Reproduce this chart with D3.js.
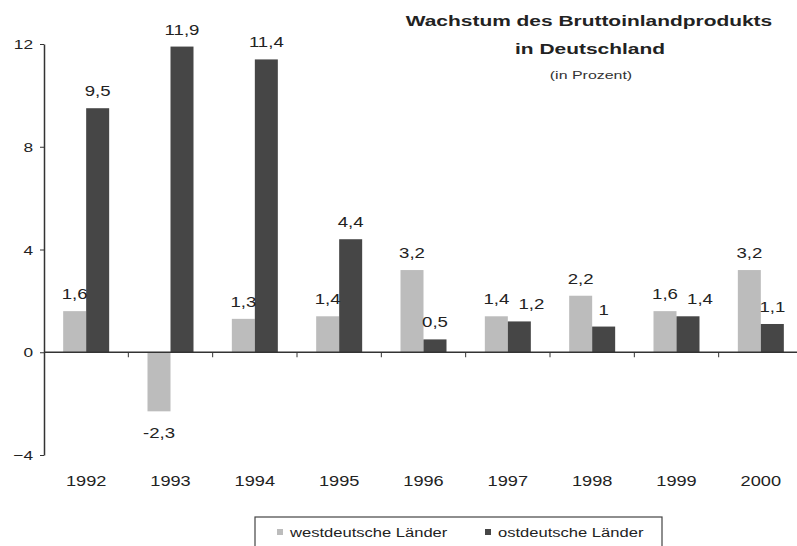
<!DOCTYPE html>
<html>
<head>
<meta charset="utf-8">
<script src="https://cdn.jsdelivr.net/npm/d3@7"></script>
<style>
  body { margin: 0; background: #fff; }
  svg { font-family: "Liberation Sans", Arial, sans-serif; }
</style>
</head>
<body>
<div class="container"></div>
<script>
// Wachstum des BIP, west / ost
var years = ["1992", "1993", "1994", "1995", "1996", "1997", "1998", "1999", "2000"];
var west = [1.6, -2.3, 1.3, 1.4, 3.2, 1.4, 2.2, 1.6, 3.2];
var ost = [9.5, 11.9, 11.4, 4.4, 0.5, 1.2, 1.0, 1.4, 1.1];
var seriesNames = ["westdeutsche Länder", "ostdeutsche Länder"];
var yTicks = [-4, 0, 4, 8, 12];

var width = 797, height = 546;
var colors = ["#bcbcbc", "#464646"];
var wide = 1.33; // the original font is a wide grotesk

var svg = d3.select('.container').append('svg')
  .attr('width', width).attr('height', height);

// helper: put text at (px,py) stretched horizontally
function place(sel, px, py, s) {
  sel.attr('transform', function(d, i){
    var a = typeof px === 'function' ? px(d, i) : px;
    var b = typeof py === 'function' ? py(d, i) : py;
    return 'translate(' + a + ',' + b + ') scale(' + (s || wide) + ',1)';
  });
}

var x = d3.scaleBand().domain(years).range([44, 803]);
var inner = d3.scaleBand().domain([0, 1]).range([0, 46]);
var y = d3.scaleLinear().domain([-4, 12]).range([455, 44]);

var fmt = function(v){ return String(v).replace('.', ','); };

// y axis
var yAxis = svg.append('g')
  .attr('transform', 'translate(44,0)')
  .call(d3.axisLeft(y).tickValues(yTicks).tickSize(4).tickSizeOuter(0));
yAxis.select('.domain').attr('stroke', '#333').attr('stroke-width', 1.5);
yAxis.selectAll('line').attr('stroke', '#333');
yAxis.selectAll('text').attr('font-size', 13).attr('fill', '#222')
  .attr('x', 0).attr('dy', '0.35em')
  .attr('font-family', '"Liberation Sans", Arial, sans-serif')
  .attr('transform', 'translate(-11,0) scale(' + wide + ',1)');

// bars
var rows = years.map(function(yr, i){ return {year: yr, vals: [west[i], ost[i]]}; });
var groups = svg.selectAll('g.year').data(rows).enter().append('g')
  .attr('class', 'year')
  .attr('transform', function(d){ return 'translate(' + (x(d.year) + x.bandwidth()/2 - 23) + ',0)'; });

groups.selectAll('rect').data(function(d){ return d.vals; }).enter().append('rect')
  .attr('x', function(d, i){ return inner(i); })
  .attr('width', inner.bandwidth())
  .attr('y', function(d){ return y(Math.max(0, d)); })
  .attr('height', function(d){ return Math.abs(y(d) - y(0)); })
  .attr('fill', function(d, i){ return colors[i]; });

// labels: if both labels sit at about the same height, nudge the dark one right
var vl = groups.selectAll('text').data(function(d){
    var close = d.vals[0] > 0 && Math.abs(d.vals[0] - d.vals[1]) < 0.5;
    return d.vals.map(function(v, i){ return {v: v, shift: close && i === 1 ? 12 : 0}; });
  }).enter().append('text')
  .attr('text-anchor', 'middle')
  .attr('font-size', 14)
  .attr('fill', '#222')
  .text(function(d){ return fmt(d.v); });
place(vl, function(d, i){ return inner(i) + inner.bandwidth()/2 + d.shift; },
  function(d){ return d.v < 0 ? y(d.v) + 27 : y(d.v) - 12; });

// x axis at zero
var xAxis = svg.append('g')
  .attr('transform', 'translate(0,' + y(0) + ')');
xAxis.append('line').attr('x1', 44).attr('x2', width).attr('stroke', '#333').attr('stroke-width', 1.5);
xAxis.selectAll('line.tick').data(years.slice(1)).enter().append('line')
  .attr('class', 'tick')
  .attr('x1', function(d){ return x(d); }).attr('x2', function(d){ return x(d); })
  .attr('y1', 0).attr('y2', 5).attr('stroke', '#333');

var yl = svg.selectAll('text.year').data(years).enter().append('text')
  .attr('class', 'year')
  .attr('text-anchor', 'middle')
  .attr('font-size', 14)
  .attr('fill', '#222')
  .text(function(d){ return d; });
place(yl, function(d){ return x(d) + x.bandwidth()/2; }, 486, 1.3);

// title
var t1 = svg.append('text').attr('text-anchor', 'middle')
  .attr('font-size', 15.5).attr('font-weight', 'bold').attr('fill', '#222')
  .text('Wachstum des Bruttoinlandprodukts');
place(t1, 589, 26, 1.35);
var t2 = svg.append('text').attr('text-anchor', 'middle')
  .attr('font-size', 15.5).attr('font-weight', 'bold').attr('fill', '#222')
  .text('in Deutschland');
place(t2, 590, 54, 1.35);
var t3 = svg.append('text').attr('text-anchor', 'middle')
  .attr('font-size', 11).attr('fill', '#333')
  .text('(in Prozent)');
place(t3, 591, 79, 1.45);

// legend
var legend = svg.append('g').attr('transform', 'translate(255,517)');
legend.append('rect').attr('width', 407).attr('height', 30)
  .attr('fill', 'none').attr('stroke', '#444').attr('stroke-width', 1.2);
var items = legend.selectAll('g.item').data(seriesNames).enter().append('g')
  .attr('class', 'item')
  .attr('transform', function(d, i){ return 'translate(' + (i === 0 ? 22 : 230) + ',0)'; });
items.append('rect').attr('y', 12).attr('width', 6).attr('height', 6)
  .attr('fill', function(d, i){ return colors[i]; });
var lt = items.append('text')
  .attr('font-size', 12).attr('fill', '#222')
  .text(function(d){ return d; });
place(lt, 13, 20, 1.38);
</script>
</body>
</html>
